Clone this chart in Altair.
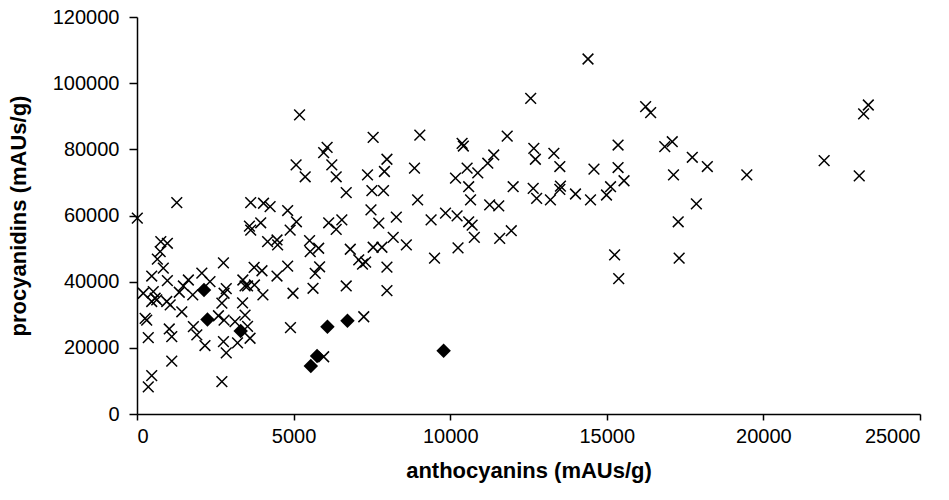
import altair as alt
import pandas as pd

# Crosses (samples)
cross_x = [10, 1270, 760, 970, 740, 650, 840, 470, 970, 1640, 2070, 2330, 1480, 200, 520, 580, 470, 630,
           950, 1060, 1430, 260, 310, 360, 1030, 1110, 1800, 1910, 2170, 1110, 470, 360, 1350, 1780,
           2760, 2850, 2780, 2710, 2600, 2780, 3380, 3450, 3530, 3750, 3740, 3990, 4470, 4020, 3370,
           3450, 3130, 3530, 2760, 2850, 3210, 3610, 2710, 4810, 4980, 4900, 3630, 4040, 4250, 4810,
           5090, 3590, 3630, 3950, 4890, 4170, 4470, 4490,
           5190, 7540, 9030, 6070, 5960, 5080, 5370, 6220, 6360, 7980, 7900, 7360, 8860, 6680, 7500,
           7870, 8960, 7470, 8280, 7720, 6540, 6120, 6360, 9390, 9850, 10220, 5510, 5530, 5800, 5830,
           5690, 6810, 7080, 7200, 7300, 7540, 7820, 8180, 8600, 7980, 7980, 6680, 5620, 9500, 10250,
           7240, 5960,
           12570, 10380, 10420, 11820, 11390, 11200, 10880, 10540, 10170, 12670, 12720, 13310, 13500,
           14590, 10590, 10650, 12010, 12650, 12760, 13200, 13520, 13500, 14000, 14480, 14990, 15120,
           11260, 11550, 10590, 10700, 10770, 11580, 11950, 15250, 15380, 14400,
           16240, 16400, 15360, 16850, 17090, 17730, 18210, 19470, 15360, 15550, 17130, 17860, 17280,
           17310,
           23350, 23200, 21940, 23060]
cross_y = [59200, 63900, 52100, 51600, 49100, 46800, 44100, 41700, 40300, 40500, 42600, 40000, 38700,
           36500, 37000, 35000, 34000, 34500, 34000, 33000, 30900, 28900, 28400, 23100, 25700, 23400,
           26400, 23900, 20700, 16000, 11600, 8200, 36800, 36000,
           45700, 37900, 36500, 33500, 29700, 28400, 40500, 38700, 38700, 39000, 44300, 43300, 41700,
           36000, 33600, 29900, 27900, 26500, 21900, 18500, 21500, 22900, 9800, 44700, 36500, 26100,
           63900, 63700, 62700, 61500, 58100, 56800, 55600, 57800, 55600, 52100, 52600, 51100,
           90400, 83600, 84300, 80600, 79000, 75300, 71700, 75300, 71700, 77000, 73300, 72300, 74300,
           66900, 67500, 67500, 64700, 61700, 59500, 57700, 58700, 57800, 55800, 58700, 60700, 59900,
           52400, 49100, 50100, 44500, 42500, 49800, 46600, 45300, 45900, 50400, 50400, 53400, 51100,
           44400, 37300, 38700, 38000, 47100, 50200, 29400, 17300,
           95400, 81800, 81000, 84000, 78300, 75800, 72900, 74300, 71300, 80300, 77000, 78800, 74800,
           74000, 68700, 64700, 68700, 68200, 65200, 64700, 68900, 67900, 66500, 64700, 66200, 68700,
           63200, 62900, 58100, 57100, 53400, 53100, 55400, 48100, 40900, 107300,
           92900, 91100, 81300, 80800, 82300, 77600, 74800, 72300, 74500, 70500, 72300, 63500, 58100,
           47100,
           93400, 90700, 76600, 72000]

# Diamonds
diamond_x = [2140, 2250, 3310, 6080, 6720, 5750, 5550, 9790]
diamond_y = [37500, 28600, 25100, 26400, 28200, 17500, 14500, 19100]

x_ticks = [0, 5000, 10000, 15000, 20000, 25000]
y_ticks = [0, 20000, 40000, 60000, 80000, 100000, 120000]

crosses = pd.DataFrame({"x": cross_x, "y": cross_y})
diamonds = pd.DataFrame({"x": diamond_x, "y": diamond_y})

FONT = "Liberation Sans"

xscale = alt.Scale(domain=[0, 25000], nice=False)
yscale = alt.Scale(domain=[0, 120000], nice=False)

xaxis = alt.Axis(title="anthocyanins (mAUs/g)", values=x_ticks, format="d", grid=False,
                 tickSize=6, labelPadding=6, titleY=56, titleBaseline="middle")
yaxis = alt.Axis(title="procyanidins (mAUs/g)", values=y_ticks, format="d", grid=False,
                 tickSize=8, labelPadding=10, titleX=-119, titleBaseline="middle")

cross_layer = alt.Chart(crosses).mark_point(
    shape="M-1,-1L1,1M-1,1L1,-1", filled=False, color="black", strokeWidth=1.5, size=115,
    opacity=1
).encode(
    x=alt.X("x:Q", scale=xscale, axis=xaxis),
    y=alt.Y("y:Q", scale=yscale, axis=yaxis),
)

diamond_layer = alt.Chart(diamonds).mark_point(
    shape="diamond", filled=True, color="black", size=210, opacity=1
).encode(
    x=alt.X("x:Q", scale=xscale),
    y=alt.Y("y:Q", scale=yscale),
)

chart = alt.layer(cross_layer, diamond_layer).properties(
    width=783, height=397,
    autosize=alt.AutoSizeParams(type="none"),
    padding={"left": 137, "top": 17, "right": 29, "bottom": 86},
    background="white",
).configure_view(stroke=None).configure_axis(
    domainColor="black", tickColor="black", labelColor="black", titleColor="black",
    labelFont=FONT, titleFont=FONT, labelFontSize=20, titleFontSize=22,
    titleFontWeight="bold", domainWidth=1.5, tickWidth=1.5,
)

chart.save("out.html", embed_options={"renderer": "svg", "actions": False})
